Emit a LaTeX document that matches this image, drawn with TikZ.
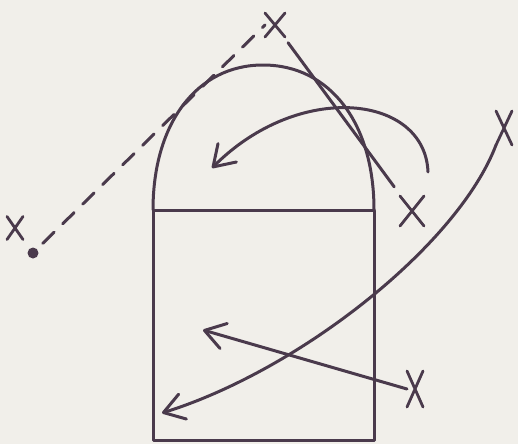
\documentclass[tikz,border=0pt]{standalone}
\usetikzlibrary{arrows.meta,shapes.misc}
\definecolor{ink}{HTML}{4A3A4C}
\definecolor{paper}{HTML}{F1EFEA}
\begin{document}
\begin{tikzpicture}[x=1pt,y=-1pt,
  inkline/.style={draw=ink, line width=3pt, line cap=round, line join=round},
  xmark/.style={cross out, draw=ink, line width=2.8pt, line cap=round, inner sep=0pt, outer sep=0pt},
  barbtip/.style={-{Straight Barb[length=20pt, width=26pt, round]}}]
\useasboundingbox (0,0) rectangle (518,444);
\fill[paper] (0,0) rectangle (518,444);
% marks
\node[xmark, minimum width=20pt, minimum height=24pt] (xtop) at (275,25) {};
\node[xmark, minimum width=16pt, minimum height=23pt] (xleft) at (15,228) {};
\node[xmark, minimum width=24pt, minimum height=30pt] (xmid) at (412,211) {};
\node[xmark, minimum width=16pt, minimum height=36pt] (xbot) at (415,389) {};
\node[xmark, minimum width=16pt, minimum height=34pt] (xright) at (504,128) {};
\node[circle, fill=ink, minimum size=11pt, inner sep=0pt] (dot) at (33,253) {};
% dome and box
\draw[inkline] (153,210) .. controls (153,123) and (197,65) .. (263,65)
   .. controls (330,65) and (374,123) .. (374,210);
\draw[inkline] (153,210) rectangle (374,440);
% lines
\draw[inkline, dash pattern=on 16pt off 12pt, shorten <=8pt] (dot) -- (xtop.west);
\draw[inkline, shorten <=22pt, shorten >=30pt] (xtop.center) -- (xmid.center);
% arrows
\coordinate (c1) at (428,172);
\coordinate (t1) at (212,168);
\coordinate (t2) at (162,413);
\coordinate (t3) at (203,330);
\draw[inkline, barbtip] (c1) .. controls (425,95) and (300,80) .. (t1);
\draw[inkline, barbtip] (xright.south west) .. controls (458,245) and (300,370) .. (t2);
\draw[inkline, barbtip] (xbot.west) -- (t3);
\end{tikzpicture}
\end{document}
